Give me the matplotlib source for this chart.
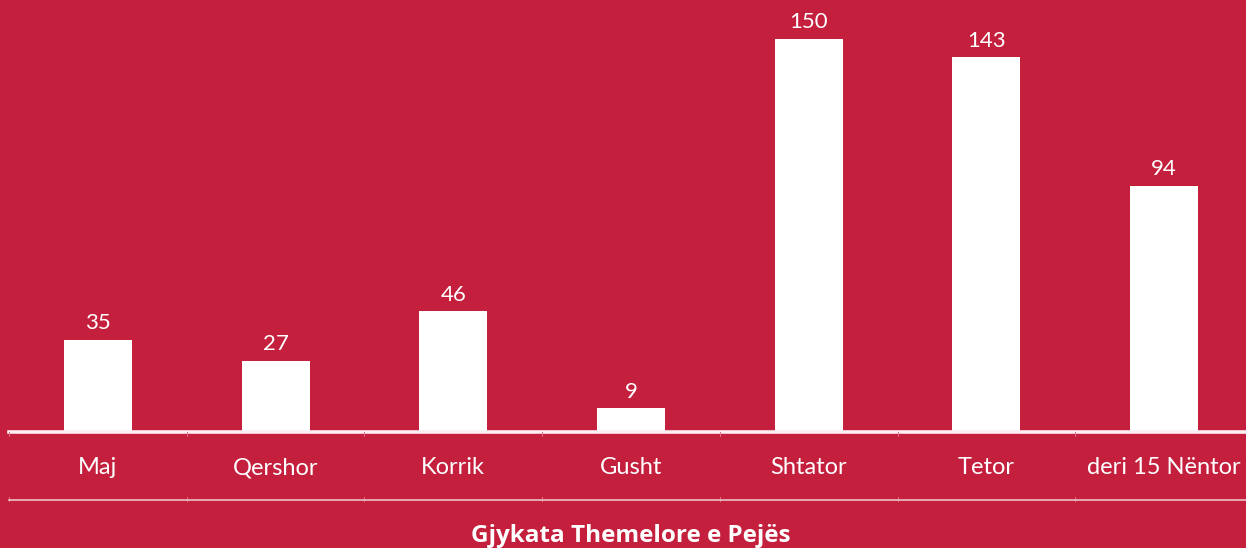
import matplotlib
matplotlib.use("Agg")
import matplotlib.pyplot as plt
from matplotlib.lines import Line2D
from matplotlib.transforms import blended_transform_factory

categories = ["Maj", "Qershor", "Korrik", "Gusht", "Shtator", "Tetor", "deri 15 Nëntor"]
values = [35, 27, 46, 9, 150, 143, 94]
title = "Gjykata Themelore e Pejës"

BG = "#C41F3D"
W, H = 1246, 548
fig = plt.figure(figsize=(W / 100, H / 100), dpi=100, facecolor=BG)
base_y = 432
left_px, right_px = 9, 1253
ax = fig.add_axes([left_px / W, 1 - base_y / H, (right_px - left_px) / W, base_y / H])
ax.set_facecolor(BG)
x = list(range(len(categories)))
ax.bar(x, values, width=0.383, color="white", zorder=3)
ax.set_xlim(-0.5, len(categories) - 0.5)
ax.set_ylim(0, base_y / 2.62)
for s in ["top", "right", "left"]:
    ax.spines[s].set_visible(False)
ax.spines["bottom"].set_color("#FBEFF2")
ax.spines["bottom"].set_linewidth(2.6)
ax.spines["bottom"].set_zorder(4)
ax.set_yticks([])
ax.set_xticks(x)
ax.set_xticklabels(categories, color="white", fontsize=17, family="Lato")
ax.tick_params(axis="x", length=0, pad=18)

for xi, v in zip(x, values):
    ax.text(xi, v + 2.6, str(v), ha="center", va="bottom", color="white",
            fontsize=16, family="Lato")

tr = blended_transform_factory(ax.transData, fig.transFigure)
for k in range(len(categories)):
    fig.add_artist(Line2D([k - 0.5, k - 0.5], [1 - 436 / H, 1 - 432 / H], transform=tr,
                          color="#DC7385", lw=0.7))
    fig.add_artist(Line2D([k - 0.5, k - 0.5], [1 - 501 / H, 1 - 497 / H], transform=tr,
                          color="#DC7385", lw=0.7))
fig.add_artist(Line2D([left_px / W, 1], [1 - 500 / H, 1 - 500 / H], transform=fig.transFigure,
                      color="#EBC3CA", lw=1.2))

fig.text(631 / W, 1 - 536 / H, title, ha="center", va="center",
         color="white", fontsize=17.5, fontweight="bold", family="Open Sans")

fig.savefig("out.png", dpi=100, facecolor=BG)
